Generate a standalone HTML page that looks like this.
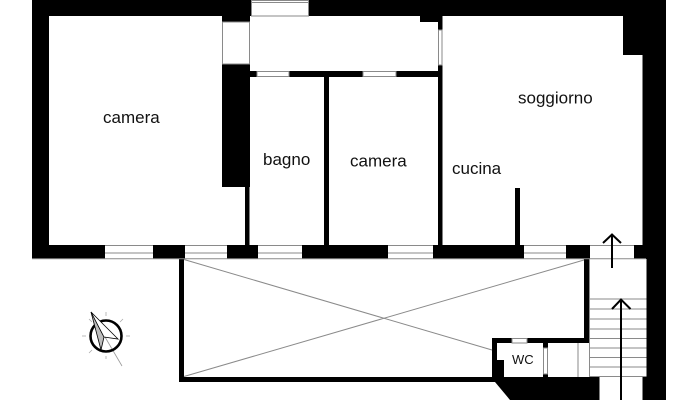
<!DOCTYPE html>
<html>
<head>
<meta charset="utf-8">
<style>
  html, body { margin:0; padding:0; background:#fff; }
  svg { display:block; }
  text { font-family: "Liberation Sans", Arial, sans-serif; fill:#111; }
</style>
</head>
<body>
<svg width="700" height="400" viewBox="0 0 700 400" xmlns="http://www.w3.org/2000/svg">
  <rect x="0" y="0" width="700" height="400" fill="#fff"/>

  <g fill="#000">
    <!-- top wall -->
    <rect x="32" y="0" width="219" height="16"/>
    <rect x="309" y="0" width="357" height="16"/>
    <!-- left wall -->
    <rect x="32" y="0" width="17" height="259"/>
    <!-- camera/bagno wall -->
    <rect x="222" y="16" width="28" height="6"/>
    <rect x="222" y="64" width="28" height="123"/>
    <rect x="245" y="187" width="4.5" height="58"/>
    <!-- corridor bottom wall -->
    <rect x="250" y="71" width="188" height="6"/>
    <!-- bagno/camera wall -->
    <rect x="324" y="77" width="5" height="168"/>
    <!-- camera/cucina wall -->
    <rect x="438" y="16" width="4.5" height="229"/>
    <rect x="420" y="16" width="22" height="6"/>
    <!-- cucina partition -->
    <rect x="515" y="188" width="5" height="57"/>
    <!-- right wall -->
    <rect x="642.5" y="0" width="23.5" height="259"/>
    <rect x="623" y="16" width="20" height="39"/>
    <rect x="646.5" y="259" width="19.5" height="118"/>
    <rect x="642.5" y="377" width="23.5" height="23"/>
    <!-- bottom wall segments -->
    <rect x="32" y="245" width="73" height="14"/>
    <rect x="153" y="245" width="32" height="14"/>
    <rect x="227" y="245" width="31" height="14"/>
    <rect x="302" y="245" width="86" height="14"/>
    <rect x="433" y="245" width="91" height="14"/>
    <rect x="566" y="245" width="24" height="14"/>
    <rect x="634" y="245" width="10" height="14"/>
    <!-- balcony walls -->
    <rect x="179" y="259" width="5" height="123"/>
    <rect x="179" y="377" width="318" height="5"/>
    <rect x="584" y="259" width="5" height="84"/>
    <!-- WC block -->
    <rect x="492" y="338" width="97" height="5"/>
    <rect x="492" y="338" width="5" height="44"/>
    <rect x="497" y="360" width="7" height="17"/>
    <rect x="543" y="343" width="5" height="5"/>
    <rect x="543" y="374" width="5" height="3"/>
    <!-- bottom black -->
    <polygon points="492,377 599.5,377 599.5,400 510,400 495,382 492,382"/>
  </g>

  <!-- windows / openings -->
  <g fill="#fff" stroke="#8a8a8a" stroke-width="1">
    <rect x="251.5" y="0.5" width="57" height="15.5"/>
    <rect x="222.5" y="22" width="27" height="42"/>
    <rect x="438.5" y="30" width="3.5" height="35"/>
    <rect x="257" y="71.5" width="32" height="5"/>
    <rect x="363" y="71.5" width="33" height="5"/>
    <rect x="512" y="338.5" width="15" height="4.5"/>
    <rect x="543.5" y="348" width="4" height="26"/>
  </g>
  <g stroke="#8a8a8a" stroke-width="1" fill="none">
    <line x1="251.5" y1="2.5" x2="308.5" y2="2.5"/>
    <!-- bottom wall window lines -->
    <line x1="105" y1="245.5" x2="153" y2="245.5"/>
    <line x1="105" y1="253" x2="153" y2="253"/>
    <line x1="185" y1="245.5" x2="227" y2="245.5"/>
    <line x1="185" y1="253" x2="227" y2="253"/>
    <line x1="258" y1="245.5" x2="302" y2="245.5"/>
    <line x1="258" y1="253" x2="302" y2="253"/>
    <line x1="388" y1="245.5" x2="433" y2="245.5"/>
    <line x1="388" y1="253" x2="433" y2="253"/>
    <line x1="524" y1="245.5" x2="566" y2="245.5"/>
    <line x1="524" y1="253" x2="566" y2="253"/>
    <line x1="590" y1="245.5" x2="634" y2="245.5"/>
    <line x1="32" y1="258.8" x2="646" y2="258.8"/>
    <!-- balcony diagonals -->
    <line x1="184" y1="259.5" x2="492" y2="350"/>
    <line x1="184" y1="376.5" x2="584" y2="260"/>
    <!-- stairs -->
    <line x1="589.5" y1="259" x2="589.5" y2="377"/>
    <line x1="578" y1="343" x2="578" y2="377"/>
    <line x1="589.5" y1="299" x2="646.5" y2="299"/>
    <line x1="589.5" y1="309" x2="646.5" y2="309"/>
    <line x1="589.5" y1="319" x2="646.5" y2="319"/>
    <line x1="589.5" y1="329" x2="646.5" y2="329"/>
    <line x1="589.5" y1="338.5" x2="646.5" y2="338.5"/>
    <line x1="589.5" y1="348" x2="646.5" y2="348"/>
    <line x1="589.5" y1="357.5" x2="646.5" y2="357.5"/>
    <line x1="589.5" y1="367" x2="646.5" y2="367"/>
    <line x1="589.5" y1="376.5" x2="646.5" y2="376.5"/>
  </g>

  <!-- arrows -->
  <g stroke="#000" stroke-width="2" fill="none">
    <line x1="612" y1="235" x2="612" y2="268"/>
    <polyline points="603,243 612,234.5 621,243"/>
    <line x1="621" y1="300" x2="621" y2="400"/>
    <polyline points="612,309 621,299.5 630.5,309"/>
  </g>

  <!-- compass -->
  <g>
    <g stroke="#aaa" stroke-width="0.8">
      <line x1="106" y1="316" x2="106" y2="312"/>
      <line x1="126" y1="336" x2="130" y2="336"/>
      <line x1="86" y1="336" x2="82" y2="336"/>
      <line x1="120" y1="322" x2="123" y2="319"/>
      <line x1="92" y1="322" x2="89" y2="319"/>
      <line x1="92" y1="350" x2="89" y2="353"/>
      <line x1="106" y1="356" x2="106" y2="359"/>
    </g>
    <line x1="105" y1="337" x2="122" y2="366" stroke="#999" stroke-width="0.8"/>
    <circle cx="106" cy="336" r="15.5" fill="none" stroke="#000" stroke-width="2.6"/>
    <polygon points="91,312 101,350 104,337" fill="#bdbdbd" stroke="#000" stroke-width="0.8"/>
    <polygon points="91,312 104,337 118,339" fill="#fff" stroke="#000" stroke-width="0.8"/>
  </g>

  <!-- labels -->
  <text x="103" y="123" font-size="17">camera</text>
  <text x="518" y="103.5" font-size="17">soggiorno</text>
  <text x="263" y="165" font-size="17">bagno</text>
  <text x="350" y="166.5" font-size="17">camera</text>
  <text x="452" y="174" font-size="17">cucina</text>
  <text x="512" y="364" font-size="13">WC</text>
</svg>
</body>
</html>
